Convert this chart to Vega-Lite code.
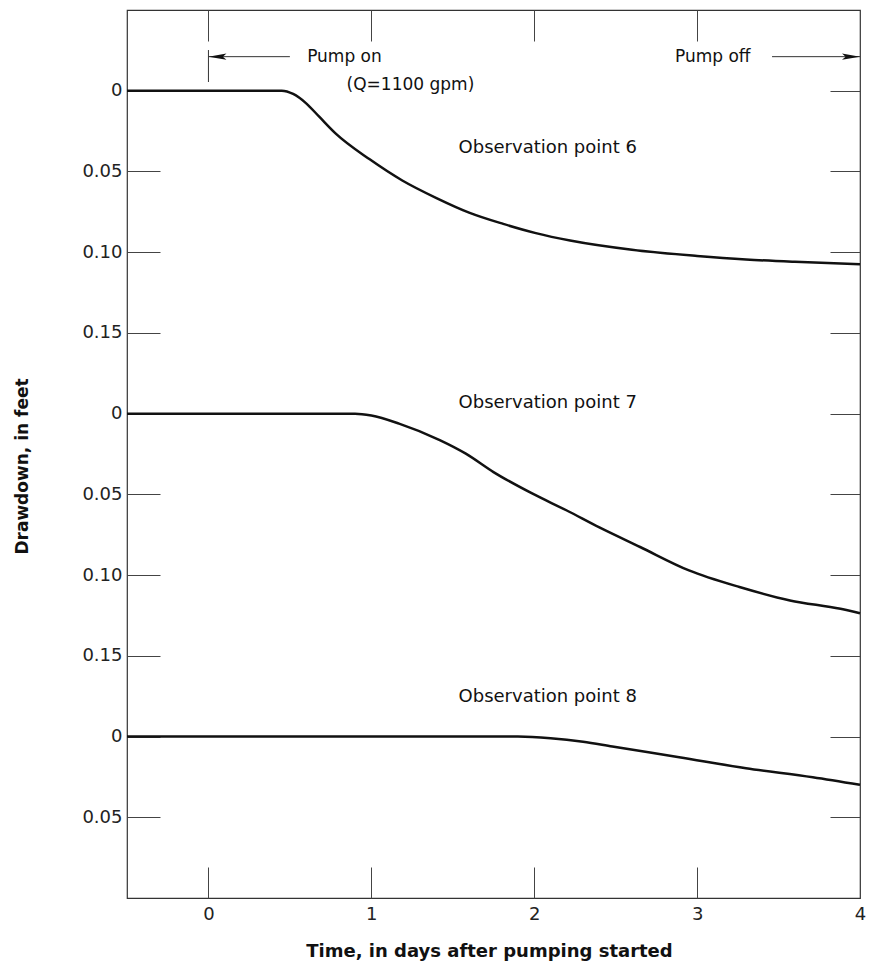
{
  "$schema": "https://vega.github.io/schema/vega-lite/v6.json",
  "width": 733,
  "height": 888,
  "autosize": "none",
  "padding": {"left": 127, "top": 10, "right": 9, "bottom": 67},
  "background": "white",
  "config": {
    "view": {"stroke": "#333", "strokeWidth": 1.2},
    "font": "DejaVu Sans",
    "axis": {"grid": false, "domain": false, "tickColor": "#444", "tickWidth": 1, "labelFont": "DejaVu Sans", "labelFontSize": 18, "labelColor": "#222", "titleFont": "DejaVu Sans", "titleColor": "#111"},
    "text": {"font": "DejaVu Sans", "fontSize": 18, "color": "#111"}
  },
  "datasets": {
    "drawdown": [
      {"point": 6, "day": -0.5, "drawdown": 0},
      {"point": 6, "day": 0.0, "drawdown": 0},
      {"point": 6, "day": 0.3, "drawdown": 0},
      {"point": 6, "day": 0.45, "drawdown": 0},
      {"point": 6, "day": 0.52, "drawdown": 0.002},
      {"point": 6, "day": 0.6, "drawdown": 0.0078},
      {"point": 6, "day": 0.68, "drawdown": 0.0161},
      {"point": 6, "day": 0.78, "drawdown": 0.0264},
      {"point": 6, "day": 0.99, "drawdown": 0.0425},
      {"point": 6, "day": 1.19, "drawdown": 0.0556},
      {"point": 6, "day": 1.4, "drawdown": 0.0665},
      {"point": 6, "day": 1.6, "drawdown": 0.0755},
      {"point": 6, "day": 1.81, "drawdown": 0.0825},
      {"point": 6, "day": 2.01, "drawdown": 0.0882},
      {"point": 6, "day": 2.22, "drawdown": 0.0928},
      {"point": 6, "day": 2.6, "drawdown": 0.0985},
      {"point": 6, "day": 3.0, "drawdown": 0.1023},
      {"point": 6, "day": 3.3, "drawdown": 0.1045},
      {"point": 6, "day": 3.6, "drawdown": 0.106},
      {"point": 6, "day": 4.0, "drawdown": 0.1075},
      {"point": 7, "day": -0.5, "drawdown": 0},
      {"point": 7, "day": 0.5, "drawdown": 0},
      {"point": 7, "day": 0.9, "drawdown": 0},
      {"point": 7, "day": 1.0, "drawdown": 0.0012},
      {"point": 7, "day": 1.17, "drawdown": 0.0062},
      {"point": 7, "day": 1.42, "drawdown": 0.0164},
      {"point": 7, "day": 1.58, "drawdown": 0.0248},
      {"point": 7, "day": 1.75, "drawdown": 0.0362},
      {"point": 7, "day": 1.99, "drawdown": 0.0496},
      {"point": 7, "day": 2.2, "drawdown": 0.06},
      {"point": 7, "day": 2.4, "drawdown": 0.0705},
      {"point": 7, "day": 2.65, "drawdown": 0.0826},
      {"point": 7, "day": 2.95, "drawdown": 0.0971},
      {"point": 7, "day": 3.26, "drawdown": 0.1074},
      {"point": 7, "day": 3.57, "drawdown": 0.1157},
      {"point": 7, "day": 3.88, "drawdown": 0.1209},
      {"point": 7, "day": 4.0, "drawdown": 0.1236},
      {"point": 8, "day": -0.5, "drawdown": 0},
      {"point": 8, "day": 1.0, "drawdown": 0},
      {"point": 8, "day": 1.9, "drawdown": 0},
      {"point": 8, "day": 2.1, "drawdown": 0.001},
      {"point": 8, "day": 2.3, "drawdown": 0.0032},
      {"point": 8, "day": 2.48, "drawdown": 0.0062},
      {"point": 8, "day": 2.89, "drawdown": 0.0128},
      {"point": 8, "day": 3.3, "drawdown": 0.0196},
      {"point": 8, "day": 3.71, "drawdown": 0.0252},
      {"point": 8, "day": 4.0, "drawdown": 0.0299}
    ]
  },
  "layer": [
    {
      "data": {"name": "drawdown"},
      "transform": [{"filter": "datum.point == 6"}],
      "mark": {"type": "line", "color": "#111", "strokeWidth": 2.5, "interpolate": "monotone"},
      "encoding": {
        "x": {"field": "day", "type": "quantitative", "scale": {"domain": [-0.5, 4], "nice": false, "zero": false},
          "axis": {"orient": "bottom", "values": [0, 1, 2, 3, 4], "format": "d", "tickSize": -31, "labelPadding": 38, "labelFlush": false,
            "title": "Time, in days after pumping started", "titleFontSize": 18, "titleFontWeight": "bold", "titleX": 362, "titleY": 53, "titleBaseline": "middle", "titleAnchor": "middle"}},
        "y": {"field": "drawdown", "type": "quantitative", "scale": {"domain": [-0.05, 0.5], "reverse": true, "nice": false, "zero": false},
          "axis": {"orient": "left", "values": [0, 0.05, 0.1, 0.15, 0.2, 0.25, 0.3, 0.35, 0.4, 0.45], "tickSize": -33, "labelPadding": 38,
            "labelExpr": "['0','0.05','0.10','0.15'][round(datum.value/0.05) % 4]",
            "title": "Drawdown, in feet", "titleFontSize": 17, "titleFontWeight": "bold", "titleX": -105, "titleY": 456, "titleBaseline": "middle", "titleAlign": "center", "titleAngle": -90}}
      }
    },
    {
      "data": {"name": "drawdown"},
      "transform": [{"filter": "datum.point == 7"}],
      "mark": {"type": "line", "color": "#111", "strokeWidth": 2.5, "interpolate": "monotone"},
      "encoding": {
        "x": {"field": "day", "type": "quantitative", "scale": {"domain": [-0.5, 4], "nice": false, "zero": false},
          "axis": {"orient": "top", "values": [0, 1, 2, 3], "tickSize": -31, "labels": false, "title": null}},
        "y": {"field": "drawdown", "type": "quantitative", "scale": {"domain": [-0.25, 0.3], "reverse": true, "nice": false, "zero": false},
          "axis": {"orient": "right", "values": [-0.2, -0.15, -0.1, -0.05, 0, 0.05, 0.1, 0.15, 0.2, 0.25], "tickSize": -30, "labels": false, "title": null}}
      }
    },
    {
      "data": {"name": "drawdown"},
      "transform": [{"filter": "datum.point == 8"}],
      "mark": {"type": "line", "color": "#111", "strokeWidth": 2.5, "interpolate": "monotone"},
      "encoding": {
        "x": {"field": "day", "type": "quantitative", "scale": {"domain": [-0.5, 4], "nice": false, "zero": false}, "axis": null},
        "y": {"field": "drawdown", "type": "quantitative", "scale": {"domain": [-0.45, 0.1], "reverse": true, "nice": false, "zero": false}, "axis": null}
      }
    },
    {
      "data": {"values": [{}]},
      "layer": [
        {"mark": {"type": "text", "text": "Observation point 6", "align": "center", "baseline": "middle"},
         "encoding": {"x": {"datum": 2.083, "type": "quantitative"}, "y": {"datum": 0.0355, "type": "quantitative"}}},
        {"mark": {"type": "text", "text": "Observation point 7", "align": "center", "baseline": "middle"},
         "encoding": {"x": {"datum": 2.083, "type": "quantitative"}, "y": {"datum": 0.1935, "type": "quantitative"}}},
        {"mark": {"type": "text", "text": "Observation point 8", "align": "center", "baseline": "middle"},
         "encoding": {"x": {"datum": 2.083, "type": "quantitative"}, "y": {"datum": 0.3757, "type": "quantitative"}}},
        {"mark": {"type": "text", "text": "Pump on", "align": "center", "baseline": "middle", "fontSize": 17},
         "encoding": {"x": {"datum": 0.835, "type": "quantitative"}, "y": {"datum": -0.0211, "type": "quantitative"}}},
        {"mark": {"type": "text", "text": "(Q=1100 gpm)", "align": "center", "baseline": "middle", "fontSize": 17},
         "encoding": {"x": {"datum": 1.24, "type": "quantitative"}, "y": {"datum": -0.0038, "type": "quantitative"}}},
        {"mark": {"type": "text", "text": "Pump off", "align": "center", "baseline": "middle", "fontSize": 17},
         "encoding": {"x": {"datum": 3.096, "type": "quantitative"}, "y": {"datum": -0.0211, "type": "quantitative"}}},
        {"mark": {"type": "rule", "color": "#333", "strokeWidth": 1},
         "encoding": {"x": {"datum": 0, "type": "quantitative"}, "x2": {"datum": 0.5}, "y": {"datum": -0.0211, "type": "quantitative"}}},
        {"mark": {"type": "rule", "color": "#333", "strokeWidth": 1},
         "encoding": {"x": {"datum": 3.46, "type": "quantitative"}, "x2": {"datum": 4}, "y": {"datum": -0.0211, "type": "quantitative"}}},
        {"mark": {"type": "rule", "color": "#333", "strokeWidth": 1},
         "encoding": {"x": {"datum": 0, "type": "quantitative"}, "y": {"datum": -0.0252, "type": "quantitative"}, "y2": {"datum": -0.0054}}},
        {"mark": {"type": "point", "shape": "M0,0L2,-0.35L1.6,0L2,0.35Z", "filled": true, "color": "#111", "size": 324, "opacity": 1},
         "encoding": {"x": {"datum": 0, "type": "quantitative"}, "y": {"datum": -0.0211, "type": "quantitative"}}},
        {"mark": {"type": "point", "shape": "M0,0L-2,-0.35L-1.6,0L-2,0.35Z", "filled": true, "color": "#111", "size": 324, "opacity": 1},
         "encoding": {"x": {"datum": 4, "type": "quantitative"}, "y": {"datum": -0.0211, "type": "quantitative"}}}
      ],
      "encoding": {
        "x": {"scale": {"domain": [-0.5, 4], "nice": false, "zero": false}, "axis": null},
        "y": {"scale": {"domain": [-0.05, 0.5], "reverse": true, "nice": false, "zero": false}, "axis": null}
      }
    }
  ],
  "resolve": {"scale": {"x": "independent", "y": "independent"}, "axis": {"x": "independent", "y": "independent"}}
}
